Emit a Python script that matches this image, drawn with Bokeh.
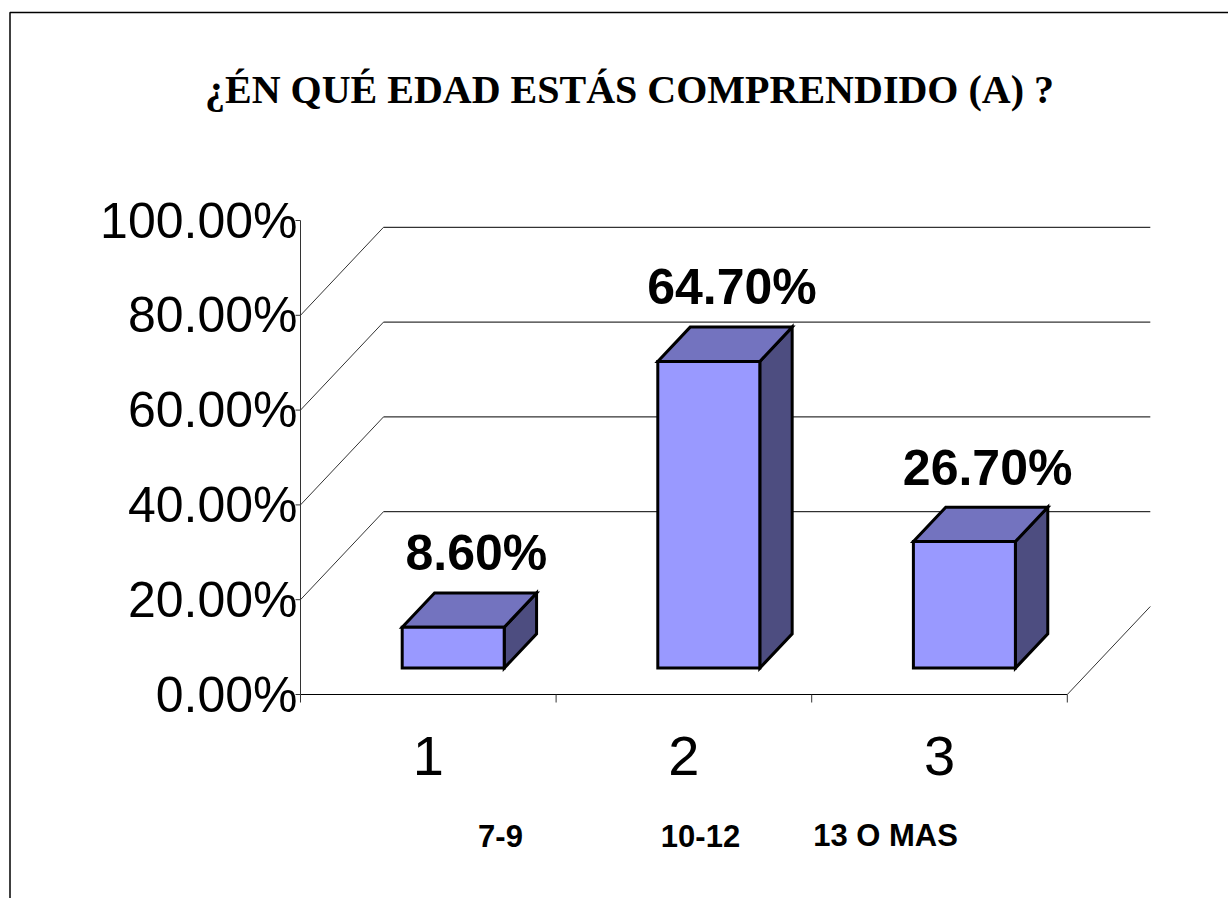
from bokeh.plotting import figure
from bokeh.models import Range1d, Label
from bokeh.core.properties import value
from bokeh.embed import file_html
from bokeh.resources import INLINE

# ---------------- data ----------------
categories = ["1", "2", "3"]
age_groups = ["7-9", "10-12", "13 O MAS"]
percentages = [8.6, 64.7, 26.7]
value_labels = ["8.60%", "64.70%", "26.70%"]
y_ticks = [0, 20, 40, 60, 80, 100]
y_tick_labels = ["0.00%", "20.00%", "40.00%", "60.00%", "80.00%", "100.00%"]
title_text = "¿ÉN QUÉ EDAD ESTÁS COMPRENDIDO (A) ?"

# ---------------- layout / style ----------------
W, H = 1228, 898
PX_X = 255.6          # pixels per category slot
PX_Y = 4.74           # pixels per percent
X0_SCREEN, Y0_SCREEN = 300, 694   # where (0.5, 0) sits on the page
x_start = 0.5 - X0_SCREEN / PX_X
x_end = x_start + W / PX_X
y_start = -(H - Y0_SCREEN) / PX_Y
y_end = y_start + H / PX_Y

DX = 83 / PX_X        # 3-D depth shift (x)
DY = 88 / PX_Y        # 3-D depth shift (y)
D0, D1 = 0.30, 0.69   # bar depth span
DL = 0.58             # depth of value labels
BAR_W = 102 / PX_X
LABEL_PAD = 10.4
FRONT, TOP, SIDE = "#9999FF", "#7373BF", "#4D4D80"
SANS = "Liberation Sans"
SERIF = "Liberation Serif"

p = figure(width=W, height=H, x_range=Range1d(x_start, x_end),
           y_range=Range1d(y_start, y_end), output_backend="svg",
           toolbar_location=None, min_border=0,
           x_axis_location=None, y_axis_location=None)
p.grid.visible = False
p.outline_line_color = None
p.background_fill_color = "white"

xc = [i + 1 for i in range(len(categories))]
n = len(categories)
x_lo, x_hi = 0.5, n + 0.5

# ---- back wall gridlines and their depth diagonals ----
inner = y_ticks[1:-1]
p.segment(x0=[x_lo] * len(inner), y0=inner,
          x1=[x_lo + DX] * len(inner), y1=[g + DY for g in inner],
          line_color="#333333", line_width=1)
p.segment(x0=[x_lo + DX] * len(inner), y0=[g + DY for g in inner],
          x1=[x_hi + DX] * len(inner), y1=[g + DY for g in inner],
          line_color="black", line_width=1)

# ---- floor ----
p.segment(x0=[x_lo], y0=[0], x1=[x_hi], y1=[0], line_color="black", line_width=1)
p.segment(x0=[x_hi], y0=[0], x1=[x_hi + DX], y1=[DY], line_color="#333333", line_width=1)
bounds = [x_lo + k for k in range(n + 1)]
p.segment(x0=bounds, y0=[0] * len(bounds), x1=bounds, y1=[-8 / PX_Y] * len(bounds),
          line_color="#333333", line_width=1)

# ---- value axis ----
p.segment(x0=[x_lo], y0=[y_ticks[0]], x1=[x_lo], y1=[y_ticks[-1]],
          line_color="#333333", line_width=1)
p.segment(x0=[x_lo - 5 / PX_X] * len(y_ticks), y0=y_ticks,
          x1=[x_lo] * len(y_ticks), y1=y_ticks, line_color="#333333", line_width=1)
p.text(x=[x_lo - 3 / PX_X] * len(y_ticks), y=y_ticks, text=y_tick_labels,
       text_font=value(SANS), text_font_size="50px", text_align="right",
       text_baseline="middle", text_color="black")

# ---- 3-D bars ----
fx, fy, tx, ty, sx, sy = [], [], [], [], [], []
for c, v in zip(xc, percentages):
    l0 = c - BAR_W / 2 + D0 * DX
    r0 = c + BAR_W / 2 + D0 * DX
    l1 = l0 + (D1 - D0) * DX
    r1 = r0 + (D1 - D0) * DX
    b0, t0 = D0 * DY, v + D0 * DY
    b1, t1 = D1 * DY, v + D1 * DY
    fx.append([l0, r0, r0, l0]); fy.append([b0, b0, t0, t0])
    tx.append([l0, r0, r1, l1]); ty.append([t0, t0, t1, t1])
    sx.append([r0, r1, r1, r0]); sy.append([b0, b1, t1, t0])
for xs, ys, col in ((sx, sy, SIDE), (tx, ty, TOP), (fx, fy, FRONT)):
    p.patches(xs=xs, ys=ys, fill_color=col, line_color="black",
              line_width=3, line_join="miter")

# ---- value labels ----
p.text(x=[c + DL * DX for c in xc], y=[v + DL * DY + LABEL_PAD for v in percentages],
       text=value_labels, text_font=value(SANS), text_font_style="bold",
       text_font_size="50px", text_align="center", text_baseline="alphabetic",
       text_color="black")

# ---- category labels ----
p.text(x=xc, y=[-12.9] * n, text=categories, text_font=value(SANS),
       text_font_size="56px", text_align="center", text_baseline="middle",
       text_color="black")
age_x = [1.2825, 2.065, 2.789]
p.text(x=age_x, y=[-29.75] * n, text=age_groups, text_font=value(SANS),
       text_font_style="bold", text_font_size="31px", text_align="center",
       text_baseline="middle", text_color="black")

# ---- title ----
p.add_layout(Label(x=x_lo + (629 - X0_SCREEN) / PX_X, y=(Y0_SCREEN - 89) / PX_Y,
                   text=title_text, text_font=SERIF, text_font_style="bold",
                   text_font_size="40px", text_align="center",
                   text_baseline="alphabetic", text_color="black"))

# ---- chart border (left and top) ----
BX = x_lo - (X0_SCREEN - 9.5) / PX_X
BY = (Y0_SCREEN - 12) / PX_Y
p.line(x=[BX, BX, x_end], y=[y_start, BY, BY], line_color="black", line_width=1.5)

open("out.html", "w").write(file_html(p, INLINE))
